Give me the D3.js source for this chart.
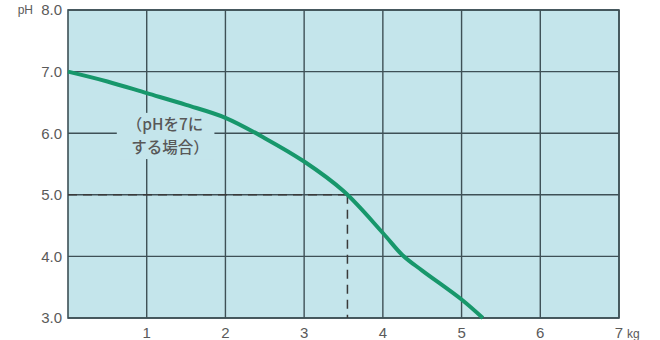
<!DOCTYPE html>
<html><head><meta charset="utf-8">
<script src="https://cdn.jsdelivr.net/npm/d3@7"></script>
<style>body{margin:0;background:#fff}svg{display:block}</style>
</head><body>
<script>
const curveX = [0, 0.5, 1, 1.5, 2, 2.5, 3, 3.5, 4, 4.25, 4.5, 5, 5.27];
const curveY = [7.0, 6.84, 6.65, 6.46, 6.25, 5.92, 5.54, 5.06, 4.38, 4.02, 3.77, 3.3, 3.0];
const xTicks = [1, 2, 3, 4, 5, 6, 7];
const yTicks = [3, 4, 5, 6, 7, 8];
const targetX = 3.55, targetY = 5.0;
const noteLines = ["（pHを7に", "する場合）"];

const W = 660, H = 340;
const m = {l: 68, r: 41, t: 10, b: 22};
const svg = d3.select("body").append("svg").attr("width", W).attr("height", H);
const x = d3.scaleLinear().domain([0, 7]).range([m.l, W - m.r]);
const y = d3.scaleLinear().domain([3, 8]).range([H - m.b, m.t]);
const gridC = "#3e5056", txtC = "#5a5a5a", bg = "#c4e5eb";

svg.append("rect").attr("x", x(0)).attr("y", y(8)).attr("width", x(7) - x(0)).attr("height", y(3) - y(8)).attr("fill", bg);

// grid
svg.append("g").selectAll("line").data(xTicks).join("line")
  .attr("x1", d => x(d)).attr("x2", d => x(d)).attr("y1", y(8)).attr("y2", y(3))
  .attr("stroke", gridC).attr("stroke-width", 1.4);
svg.append("g").selectAll("line").data(yTicks).join("line")
  .attr("x1", x(0)).attr("x2", x(7)).attr("y1", d => y(d)).attr("y2", d => y(d))
  .attr("stroke", gridC).attr("stroke-width", 1.4);
svg.append("rect").attr("x", x(0)).attr("y", y(8)).attr("width", x(7) - x(0)).attr("height", y(3) - y(8))
  .attr("fill", "none").attr("stroke", gridC).attr("stroke-width", 1.6);

// note background
svg.append("rect").attr("x", x(0.62)).attr("y", y(6.33)).attr("width", x(1.86) - x(0.62)).attr("height", y(5.58) - y(6.33)).attr("fill", bg);

// dashed guides
svg.append("line").attr("x1", x(0)).attr("x2", x(targetX)).attr("y1", y(targetY)).attr("y2", y(targetY))
  .attr("stroke", "#3a3a3a").attr("stroke-width", 1.5).attr("stroke-dasharray", "9,6");
svg.append("line").attr("x1", x(targetX)).attr("x2", x(targetX)).attr("y1", y(targetY)).attr("y2", y(3))
  .attr("stroke", "#3a3a3a").attr("stroke-width", 1.5).attr("stroke-dasharray", "9,6");

// curve
const pts = curveX.map((v, i) => [v, curveY[i]]);
svg.append("path").datum(pts)
  .attr("d", d3.line().x(d => x(d[0])).y(d => y(d[1])).curve(d3.curveCatmullRom.alpha(0.5)))
  .attr("fill", "none").attr("stroke", "#17976b").attr("stroke-width", 4).attr("stroke-linecap", "butt");

// note
svg.append("g").selectAll("text").data(noteLines).join("text")
  .attr("x", (d, i) => i === 0 ? 165 : 170).attr("y", (d, i) => 130 + i * 23)
  .attr("text-anchor", "middle").attr("font-family", "'Noto Sans CJK JP', sans-serif")
  .attr("font-size", 15.5).attr("font-weight", 500).attr("fill", "#585858").text(d => d);

// y labels
svg.append("g").selectAll("text").data(yTicks).join("text")
  .attr("x", 62).attr("y", d => y(d)).attr("dy", "0.36em").attr("text-anchor", "end")
  .attr("font-family", "'Liberation Sans', Arial, sans-serif").attr("font-size", 15).attr("fill", txtC)
  .text(d => d.toFixed(1));
svg.append("text").attr("x", 33).attr("y", y(8)).attr("dy", "0.36em").attr("text-anchor", "end")
  .attr("font-family", "'Liberation Sans', Arial, sans-serif").attr("font-size", 12).attr("fill", txtC).text("pH");

// x labels
svg.append("g").selectAll("text").data(xTicks).join("text")
  .attr("x", d => x(d)).attr("y", 338).attr("text-anchor", "middle")
  .attr("font-family", "'Liberation Sans', Arial, sans-serif").attr("font-size", 15).attr("fill", txtC)
  .text(d => d);
svg.append("text").attr("x", x(7) + 8).attr("y", 338)
  .attr("font-family", "'Liberation Sans', Arial, sans-serif").attr("font-size", 12).attr("fill", txtC).text("kg");
</script>
</body></html>
